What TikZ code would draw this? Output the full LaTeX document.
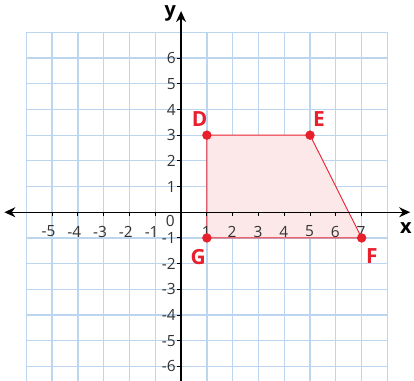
\documentclass[tikz,border=0pt]{standalone}
\usepackage{fontspec}
\setmainfont{Open Sans}
\usetikzlibrary{arrows.meta}
\definecolor{gridblue}{HTML}{BCD6EF}
\definecolor{ptred}{HTML}{E8202E}
\definecolor{fillpink}{HTML}{FCE8E8}
\tikzset{
  every picture/.style={line join=round, >=Stealth},
  gridline/.style={gridblue,line width=1.3pt},
  axis/.style={line width=1.4pt,black},
  tick/.style={line width=0.9pt,black},
  ticklab/.style={font=\fontsize{15.5}{15.5}\selectfont,text=black!80,inner sep=1pt},
  vertex/.style={circle,fill=ptred,inner sep=0pt,minimum size=9.5pt},
  vlabel/.style={font=\fontsize{21}{21}\selectfont\bfseries,text=ptred},
  edge/.style={ptred,line width=0.9pt},
}

\begin{document}
\begin{tikzpicture}[x=0.9102cm,y=0.9067cm]
\useasboundingbox (-7.02,-6.56) rectangle (9.03,8.26);
% grid
\foreach \i in {-6,...,8} \draw[gridline] (\i,-6.7)--(\i,7);
\foreach \j in {-6,...,7} \draw[gridline] (-6,\j)--(8,\j);
% shape
\coordinate (D) at (1,3);
\coordinate (E) at (5,3);
\coordinate (F) at (7,-1);
\coordinate (G) at (1,-1);
\fill[fillpink] (D)--(E)--(F)--(G)--cycle;
\draw[edge] (D)--(E)--(F)--(G)--cycle;
% axes
\draw[axis,<->,>={Stealth[length=11pt,width=10pt]}] (-6.85,0)--(8.88,0) coordinate (xend);
\draw[axis,->,>={Stealth[length=11pt,width=10pt]}] (0,-6.7)--(0,7.83) coordinate (yend);
\node[font=\fontsize{20}{20}\selectfont\bfseries] (xlab) at (8.72,-0.62) {x};
\node[font=\fontsize{20}{20}\selectfont\bfseries] (ylab) at (-0.42,7.72) {y};
\foreach \i in {-5,...,-1} {
  \draw[tick] (\i,0)--(\i,-0.14);
  \node[ticklab] at (\i-0.14,-0.75) {\i};
}
\foreach \i in {1,...,7} {
  \draw[tick] (\i,0)--(\i,-0.14);
  \node[ticklab] at (\i-0.02,-0.75) {\i};
}
\foreach \j in {1,...,6} {
  \draw[tick] (0,\j)--(-0.16,\j);
  \node[ticklab,anchor=east] at (-0.16,\j) {\j};
}
\foreach \j in {-6,...,-1} {
  \draw[tick] (0,\j)--(-0.16,\j);
  \node[ticklab,anchor=east] at (-0.16,\j) {\j};
}
\node[ticklab] at (-0.42,-0.35) {0};
% vertices
\foreach \p in {D,E,F,G} \node[vertex] (pt\p) at (\p) {};
\node[vlabel] (labD) at (0.72,3.62) {D};
\node[vlabel] (labE) at (5.35,3.62) {E};
\node[vlabel] (labF) at (7.4,-1.72) {F};
\node[vlabel] (labG) at (0.66,-1.75) {G};
\end{tikzpicture}
\end{document}
